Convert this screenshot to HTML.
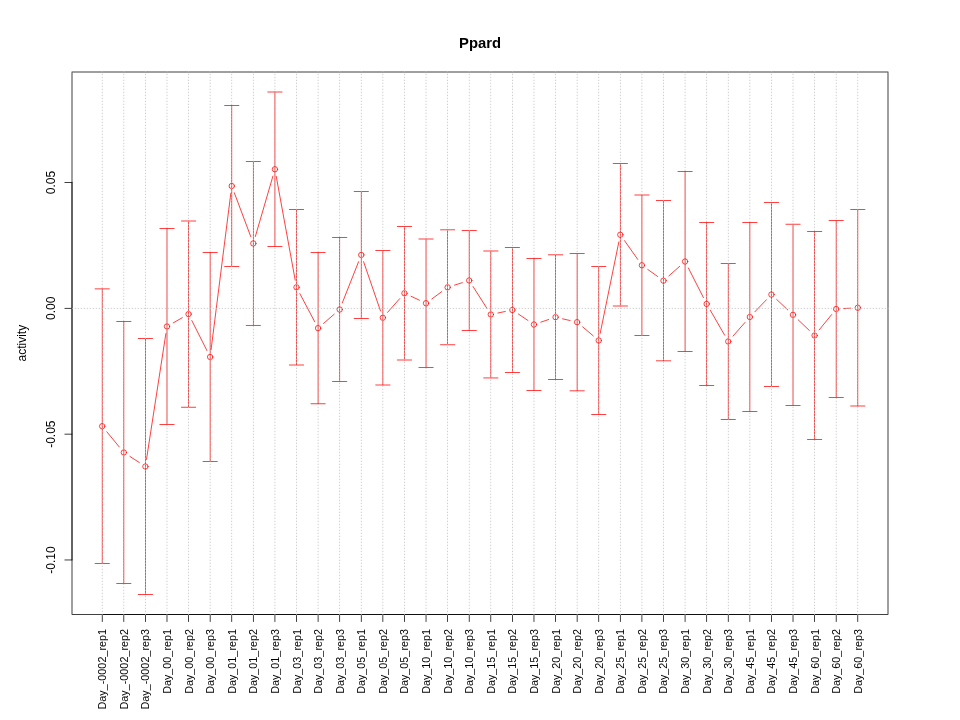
<!DOCTYPE html><html><head><meta charset="utf-8"><style>html,body{margin:0;padding:0;background:#fff;width:960px;height:720px;overflow:hidden}svg{display:block;position:absolute;left:0;top:0}text{font-family:"Liberation Sans",sans-serif;fill:#000}.c{shape-rendering:crispEdges}</style></head><body>
<svg width="960" height="720" viewBox="0 0 960 720" stroke-linecap="round" stroke-linejoin="round" style="will-change:transform">
<rect x="0" y="0" width="960" height="720" fill="#fff"/>
<path d="M106.793 431.763L119.239 446.912M129.847 456.398L139.359 462.577M146.494 459.384L165.887 333.566M173.234 322.875L182.322 317.675M191.809 320.531L206.921 350.544M211.061 349.832L230.844 193.143M234.28 192.74L250.8 236.685M255.345 236.512L272.909 176.163M276.216 176.333L295.213 280.192M299.87 293.642L314.733 321.783M323.544 323.443L334.234 314.207M342.332 302.805L358.62 261.645M363.61 261.759L380.517 310.941M387.617 312.348L399.685 298.652M410.98 296.27L419.496 300.205M431.829 298.955L441.822 291.595M454.484 285.155L462.341 282.67M473.068 286.577L486.932 308.398M497.844 313.014L505.331 311.461M518.358 314.015L527.991 320.485M540.786 322.186L548.737 319.489M562.57 318.8L570.129 320.55M582.632 326.834L593.241 335.841M600.17 333.445L618.877 241.805M624.477 240.627L637.745 259.373M647.763 269.436L657.634 276.489M668.875 275.893L679.696 266.282M688.343 267.918L703.403 297.532M710.259 310.19L724.662 335.21M733.019 336.053L745.076 322.397M754.832 311.81L766.438 299.74M776.674 299.482L787.771 309.918M798.219 319.827L809.4 330.523M819.151 329.918L831.643 314.582M843.378 308.584L850.59 308.166" stroke="#f00" stroke-width="0.75" fill="none"/>
<g stroke="#f00" stroke-width="0.75" fill="none"><circle cx="102.222" cy="426.2" r="2.7"/><circle cx="123.81" cy="452.475" r="2.7"/><circle cx="145.397" cy="466.5" r="2.7"/><circle cx="166.984" cy="326.45" r="2.7"/><circle cx="188.571" cy="314.1" r="2.7"/><circle cx="210.159" cy="356.975" r="2.7"/><circle cx="231.746" cy="186" r="2.7"/><circle cx="253.333" cy="243.425" r="2.7"/><circle cx="274.921" cy="169.25" r="2.7"/><circle cx="296.508" cy="287.275" r="2.7"/><circle cx="318.095" cy="328.15" r="2.7"/><circle cx="339.683" cy="309.5" r="2.7"/><circle cx="361.27" cy="254.95" r="2.7"/><circle cx="382.857" cy="317.75" r="2.7"/><circle cx="404.444" cy="293.25" r="2.7"/><circle cx="426.032" cy="303.225" r="2.7"/><circle cx="447.619" cy="287.325" r="2.7"/><circle cx="469.206" cy="280.5" r="2.7"/><circle cx="490.794" cy="314.475" r="2.7"/><circle cx="512.381" cy="310" r="2.7"/><circle cx="533.968" cy="324.5" r="2.7"/><circle cx="555.556" cy="317.175" r="2.7"/><circle cx="577.143" cy="322.175" r="2.7"/><circle cx="598.73" cy="340.5" r="2.7"/><circle cx="620.317" cy="234.75" r="2.7"/><circle cx="641.905" cy="265.25" r="2.7"/><circle cx="663.492" cy="280.675" r="2.7"/><circle cx="685.079" cy="261.5" r="2.7"/><circle cx="706.667" cy="303.95" r="2.7"/><circle cx="728.254" cy="341.45" r="2.7"/><circle cx="749.841" cy="317" r="2.7"/><circle cx="771.429" cy="294.55" r="2.7"/><circle cx="793.016" cy="314.85" r="2.7"/><circle cx="814.603" cy="335.5" r="2.7"/><circle cx="836.19" cy="309" r="2.7"/><circle cx="857.778" cy="307.75" r="2.7"/></g>
<g class="c">
<path d="M71 614h1v1h-1zM72 614h1v1h-1zM887 614h1v1h-1zM888 614h1v1h-1z" fill="#000" fill-opacity="0.009"/><path d="M71 71h1v1h-1zM888 71h1v1h-1zM71 72h1v1h-1zM888 72h1v1h-1z" fill="#000" fill-opacity="0.141"/><path d="M71 72h1v1h-1zM72 72h1v1h-1zM887 72h1v1h-1zM888 72h1v1h-1z" fill="#000" fill-opacity="0.234"/><path d="M71 614h1v1h-1zM888 614h1v1h-1z" fill="#000" fill-opacity="0.281"/><path d="M72 71h816v1h-816zM72 72h816v1h-816zM71 73h1v541h-1zM72 73h1v541h-1zM887 73h1v541h-1zM888 73h1v541h-1z" fill="#000" fill-opacity="0.375"/><path d="M72 614h816v1h-816z" fill="#000" fill-opacity="0.75"/>
<path d="M101 614h1v1h-1zM858 614h1v1h-1z" fill="#000" fill-opacity="0.054"/><path d="M102 614h756v1h-756z" fill="#000" fill-opacity="0.75"/>
<path d="M252 614h1v1h-1zM252 621h1v1h-1zM707 614h1v1h-1zM707 621h1v1h-1z" fill="#000" fill-opacity="0.037"/><path d="M252 615h1v6h-1zM707 615h1v6h-1z" fill="#000" fill-opacity="0.042"/><path d="M340 614h1v1h-1zM340 621h1v1h-1zM619 614h1v1h-1zM619 621h1v1h-1z" fill="#000" fill-opacity="0.051"/><path d="M340 615h1v6h-1zM619 615h1v6h-1z" fill="#000" fill-opacity="0.058"/><path d="M360 614h1v1h-1zM360 621h1v1h-1zM599 614h1v1h-1zM599 621h1v1h-1z" fill="#000" fill-opacity="0.094"/><path d="M360 615h1v6h-1zM599 615h1v6h-1z" fill="#000" fill-opacity="0.105"/><path d="M232 614h1v1h-1zM232 621h1v1h-1zM727 614h1v1h-1zM727 621h1v1h-1z" fill="#000" fill-opacity="0.108"/><path d="M232 615h1v6h-1zM727 615h1v6h-1z" fill="#000" fill-opacity="0.121"/><path d="M101 614h1v1h-1zM101 621h1v1h-1zM858 614h1v1h-1zM858 621h1v1h-1z" fill="#000" fill-opacity="0.137"/><path d="M468 614h1v1h-1zM468 621h1v1h-1zM491 614h1v1h-1zM491 621h1v1h-1z" fill="#000" fill-opacity="0.151"/><path d="M101 615h1v6h-1zM858 615h1v6h-1z" fill="#000" fill-opacity="0.153"/><path d="M124 614h1v1h-1zM124 621h1v1h-1zM835 614h1v1h-1zM835 621h1v1h-1z" fill="#000" fill-opacity="0.165"/><path d="M468 615h1v6h-1zM491 615h1v6h-1z" fill="#000" fill-opacity="0.169"/><path d="M124 615h1v6h-1zM835 615h1v6h-1z" fill="#000" fill-opacity="0.185"/><path d="M209 614h1v1h-1zM209 621h1v1h-1zM750 614h1v1h-1zM750 621h1v1h-1z" fill="#000" fill-opacity="0.193"/><path d="M383 614h1v1h-1zM383 621h1v1h-1zM576 614h1v1h-1zM576 621h1v1h-1z" fill="#000" fill-opacity="0.208"/><path d="M209 615h1v6h-1zM750 615h1v6h-1z" fill="#000" fill-opacity="0.216"/><path d="M383 615h1v6h-1zM576 615h1v6h-1z" fill="#000" fill-opacity="0.232"/><path d="M317 614h1v1h-1zM317 621h1v1h-1zM642 614h1v1h-1zM642 621h1v1h-1z" fill="#000" fill-opacity="0.25"/><path d="M275 614h1v1h-1zM275 621h1v1h-1zM684 614h1v1h-1zM684 621h1v1h-1z" fill="#000" fill-opacity="0.264"/><path d="M317 615h1v6h-1zM642 615h1v6h-1z" fill="#000" fill-opacity="0.28"/><path d="M275 615h1v6h-1zM684 615h1v6h-1z" fill="#000" fill-opacity="0.296"/><path d="M425 614h1v1h-1zM425 621h1v1h-1zM534 614h1v1h-1zM534 621h1v1h-1z" fill="#000" fill-opacity="0.307"/><path d="M167 614h1v1h-1zM167 621h1v1h-1zM792 614h1v1h-1zM792 621h1v1h-1z" fill="#000" fill-opacity="0.321"/><path d="M425 615h1v6h-1zM534 615h1v6h-1z" fill="#000" fill-opacity="0.343"/><path d="M166 614h1v1h-1zM166 621h1v1h-1zM793 614h1v1h-1zM793 621h1v1h-1z" fill="#000" fill-opacity="0.35"/><path d="M167 615h1v6h-1zM792 615h1v6h-1z" fill="#000" fill-opacity="0.359"/><path d="M426 614h1v1h-1zM426 621h1v1h-1zM533 614h1v1h-1zM533 621h1v1h-1z" fill="#000" fill-opacity="0.364"/><path d="M166 615h1v6h-1zM793 615h1v6h-1z" fill="#000" fill-opacity="0.391"/><path d="M274 614h1v1h-1zM274 621h1v1h-1zM685 614h1v1h-1zM685 621h1v1h-1z" fill="#000" fill-opacity="0.406"/><path d="M426 615h1v6h-1zM533 615h1v6h-1z" fill="#000" fill-opacity="0.407"/><path d="M318 614h1v1h-1zM318 621h1v1h-1zM641 614h1v1h-1zM641 621h1v1h-1z" fill="#000" fill-opacity="0.421"/><path d="M274 615h1v6h-1zM685 615h1v6h-1z" fill="#000" fill-opacity="0.454"/><path d="M382 614h1v1h-1zM382 621h1v1h-1zM577 614h1v1h-1zM577 621h1v1h-1z" fill="#000" fill-opacity="0.463"/><path d="M318 615h1v6h-1zM641 615h1v6h-1z" fill="#000" fill-opacity="0.47"/><path d="M210 614h1v1h-1zM210 621h1v1h-1zM749 614h1v1h-1zM749 621h1v1h-1z" fill="#000" fill-opacity="0.477"/><path d="M123 614h1v1h-1zM123 621h1v1h-1zM836 614h1v1h-1zM836 621h1v1h-1z" fill="#000" fill-opacity="0.506"/><path d="M382 615h1v6h-1zM577 615h1v6h-1z" fill="#000" fill-opacity="0.518"/><path d="M469 614h1v1h-1zM469 621h1v1h-1zM490 614h1v1h-1zM490 621h1v1h-1z" fill="#000" fill-opacity="0.52"/><path d="M102 614h1v1h-1zM102 621h1v1h-1zM210 615h1v6h-1zM749 615h1v6h-1zM857 614h1v1h-1zM857 621h1v1h-1z" fill="#000" fill-opacity="0.534"/><path d="M231 614h1v1h-1zM231 621h1v1h-1zM728 614h1v1h-1zM728 621h1v1h-1z" fill="#000" fill-opacity="0.563"/><path d="M123 615h1v6h-1zM836 615h1v6h-1z" fill="#000" fill-opacity="0.565"/><path d="M361 614h1v1h-1zM361 621h1v1h-1zM598 614h1v1h-1zM598 621h1v1h-1z" fill="#000" fill-opacity="0.577"/><path d="M469 615h1v6h-1zM490 615h1v6h-1z" fill="#000" fill-opacity="0.581"/><path d="M102 615h1v6h-1zM857 615h1v6h-1z" fill="#000" fill-opacity="0.597"/><path d="M339 614h1v1h-1zM339 621h1v1h-1zM620 614h1v1h-1zM620 621h1v1h-1z" fill="#000" fill-opacity="0.619"/><path d="M231 615h1v6h-1zM728 615h1v6h-1z" fill="#000" fill-opacity="0.629"/><path d="M253 614h1v1h-1zM253 621h1v1h-1zM706 614h1v1h-1zM706 621h1v1h-1z" fill="#000" fill-opacity="0.634"/><path d="M361 615h1v6h-1zM598 615h1v6h-1z" fill="#000" fill-opacity="0.645"/><path d="M145 614h1v1h-1zM145 621h1v1h-1zM188 614h1v1h-1zM188 621h1v1h-1zM296 614h1v1h-1zM296 621h1v1h-1zM404 614h1v1h-1zM404 621h1v1h-1zM447 614h1v1h-1zM447 621h1v1h-1zM512 614h1v1h-1zM512 621h1v1h-1zM555 614h1v1h-1zM555 621h1v1h-1zM663 614h1v1h-1zM663 621h1v1h-1zM771 614h1v1h-1zM771 621h1v1h-1zM814 614h1v1h-1zM814 621h1v1h-1z" fill="#000" fill-opacity="0.671"/><path d="M339 615h1v6h-1zM620 615h1v6h-1z" fill="#000" fill-opacity="0.692"/><path d="M253 615h1v6h-1zM706 615h1v6h-1z" fill="#000" fill-opacity="0.708"/><path d="M145 615h1v6h-1zM188 615h1v6h-1zM296 615h1v6h-1zM404 615h1v6h-1zM447 615h1v6h-1zM512 615h1v6h-1zM555 615h1v6h-1zM663 615h1v6h-1zM771 615h1v6h-1zM814 615h1v6h-1z" fill="#000" fill-opacity="0.75"/>
<path d="M71 560h1v1h-1zM72 560h1v1h-1z" fill="#000" fill-opacity="0.099"/><path d="M71 182h1v1h-1zM72 182h1v1h-1z" fill="#000" fill-opacity="0.311"/><path d="M71 183h1v377h-1zM72 183h1v377h-1z" fill="#000" fill-opacity="0.375"/>
<path d="M72 307h1v1h-1z" fill="#000" fill-opacity="0.022"/><path d="M64 307h1v1h-1z" fill="#000" fill-opacity="0.037"/><path d="M72 433h1v1h-1z" fill="#000" fill-opacity="0.071"/><path d="M65 307h7v1h-7z" fill="#000" fill-opacity="0.075"/><path d="M72 560h1v1h-1z" fill="#000" fill-opacity="0.102"/><path d="M64 433h1v1h-1zM72 559h1v1h-1z" fill="#000" fill-opacity="0.119"/><path d="M72 434h1v1h-1z" fill="#000" fill-opacity="0.15"/><path d="M64 560h1v1h-1z" fill="#000" fill-opacity="0.171"/><path d="M72 308h1v1h-1z" fill="#000" fill-opacity="0.199"/><path d="M64 559h1v1h-1z" fill="#000" fill-opacity="0.2"/><path d="M72 182h1v1h-1z" fill="#000" fill-opacity="0.221"/><path d="M65 433h7v1h-7z" fill="#000" fill-opacity="0.24"/><path d="M64 434h1v1h-1z" fill="#000" fill-opacity="0.252"/><path d="M64 308h1v1h-1z" fill="#000" fill-opacity="0.334"/><path d="M65 560h7v1h-7z" fill="#000" fill-opacity="0.345"/><path d="M64 182h1v1h-1z" fill="#000" fill-opacity="0.371"/><path d="M65 559h7v1h-7z" fill="#000" fill-opacity="0.405"/><path d="M65 434h7v1h-7z" fill="#000" fill-opacity="0.51"/><path d="M65 308h7v1h-7z" fill="#000" fill-opacity="0.675"/><path d="M65 182h7v1h-7z" fill="#000" fill-opacity="0.75"/>
<path d="M619 306h1v1h-1z" fill="#f00" fill-opacity="0.017"/><path d="M317 404h1v1h-1z" fill="#f00" fill-opacity="0.026"/><path d="M252 325h1v1h-1z" fill="#f00" fill-opacity="0.027"/><path d="M707 385h1v1h-1z" fill="#f00" fill-opacity="0.029"/><path d="M252 161h1v1h-1zM707 222h1v1h-1z" fill="#f00" fill-opacity="0.033"/><path d="M576 391h1v1h-1zM792 223h1v1h-1z" fill="#f00" fill-opacity="0.034"/><path d="M793 223h1v1h-1z" fill="#f00" fill-opacity="0.037"/><path d="M491 378h1v1h-1z" fill="#f00" fill-opacity="0.041"/><path d="M252 162h1v163h-1zM707 223h1v162h-1z" fill="#f00" fill-opacity="0.042"/><path d="M318 404h1v1h-1z" fill="#f00" fill-opacity="0.044"/><path d="M858 406h1v1h-1z" fill="#f00" fill-opacity="0.045"/><path d="M340 237h1v1h-1zM340 381h1v1h-1zM619 163h1v1h-1z" fill="#f00" fill-opacity="0.046"/><path d="M491 250h1v1h-1z" fill="#f00" fill-opacity="0.05"/><path d="M340 238h1v143h-1zM619 164h1v142h-1z" fill="#f00" fill-opacity="0.058"/><path d="M101 288h1v1h-1z" fill="#f00" fill-opacity="0.06"/><path d="M383 385h1v1h-1z" fill="#f00" fill-opacity="0.068"/><path d="M447 345h1v1h-1z" fill="#f00" fill-opacity="0.071"/><path d="M360 318h1v1h-1z" fill="#f00" fill-opacity="0.073"/><path d="M577 391h1v1h-1z" fill="#f00" fill-opacity="0.075"/><path d="M642 194h1v1h-1z" fill="#f00" fill-opacity="0.082"/><path d="M360 191h1v1h-1zM599 266h1v1h-1zM599 414h1v1h-1z" fill="#f00" fill-opacity="0.084"/><path d="M275 91h1v1h-1z" fill="#f00" fill-opacity="0.087"/><path d="M232 105h1v1h-1zM232 266h1v1h-1zM727 419h1v1h-1z" fill="#f00" fill-opacity="0.096"/><path d="M425 238h1v1h-1z" fill="#f00" fill-opacity="0.101"/><path d="M360 192h1v126h-1zM599 267h1v147h-1z" fill="#f00" fill-opacity="0.105"/><path d="M663 361h1v1h-1zM727 263h1v1h-1z" fill="#f00" fill-opacity="0.108"/><path d="M426 238h1v1h-1z" fill="#f00" fill-opacity="0.12"/><path d="M101 563h1v1h-1zM232 106h1v160h-1zM727 264h1v155h-1zM858 209h1v1h-1z" fill="#f00" fill-opacity="0.121"/><path d="M274 91h1v1h-1zM468 230h1v1h-1zM468 330h1v1h-1z" fill="#f00" fill-opacity="0.134"/><path d="M641 194h1v1h-1z" fill="#f00" fill-opacity="0.138"/><path d="M490 378h1v1h-1z" fill="#f00" fill-opacity="0.142"/><path d="M124 583h1v1h-1zM835 220h1v1h-1zM835 397h1v1h-1z" fill="#f00" fill-opacity="0.147"/><path d="M101 289h1v274h-1zM382 385h1v1h-1zM858 210h1v196h-1z" fill="#f00" fill-opacity="0.153"/><path d="M124 321h1v1h-1z" fill="#f00" fill-opacity="0.156"/><path d="M468 231h1v99h-1zM491 251h1v127h-1z" fill="#f00" fill-opacity="0.169"/><path d="M490 250h1v1h-1z" fill="#f00" fill-opacity="0.171"/><path d="M209 461h1v1h-1zM750 222h1v1h-1zM750 411h1v1h-1z" fill="#f00" fill-opacity="0.172"/><path d="M857 406h1v1h-1z" fill="#f00" fill-opacity="0.176"/><path d="M209 252h1v1h-1z" fill="#f00" fill-opacity="0.183"/><path d="M383 250h1v1h-1zM576 253h1v1h-1z" fill="#f00" fill-opacity="0.184"/><path d="M124 322h1v261h-1zM835 221h1v176h-1z" fill="#f00" fill-opacity="0.185"/><path d="M620 306h1v1h-1z" fill="#f00" fill-opacity="0.204"/><path d="M209 253h1v208h-1zM750 223h1v188h-1z" fill="#f00" fill-opacity="0.216"/><path d="M188 220h1v1h-1zM296 365h1v1h-1zM404 360h1v1h-1z" fill="#f00" fill-opacity="0.221"/><path d="M317 252h1v1h-1zM642 335h1v1h-1z" fill="#f00" fill-opacity="0.222"/><path d="M383 251h1v134h-1zM576 254h1v137h-1z" fill="#f00" fill-opacity="0.232"/><path d="M275 246h1v1h-1zM684 171h1v1h-1zM684 351h1v1h-1z" fill="#f00" fill-opacity="0.235"/><path d="M102 288h1v1h-1z" fill="#f00" fill-opacity="0.236"/><path d="M425 367h1v1h-1z" fill="#f00" fill-opacity="0.256"/><path d="M534 258h1v1h-1zM534 390h1v1h-1z" fill="#f00" fill-opacity="0.273"/><path d="M317 253h1v151h-1zM642 195h1v140h-1z" fill="#f00" fill-opacity="0.28"/><path d="M167 424h1v1h-1zM792 405h1v1h-1z" fill="#f00" fill-opacity="0.285"/><path d="M275 92h1v154h-1zM684 172h1v179h-1z" fill="#f00" fill-opacity="0.296"/><path d="M426 367h1v1h-1z" fill="#f00" fill-opacity="0.303"/><path d="M166 424h1v1h-1zM793 405h1v1h-1z" fill="#f00" fill-opacity="0.311"/><path d="M167 228h1v1h-1z" fill="#f00" fill-opacity="0.321"/><path d="M533 258h1v1h-1zM533 390h1v1h-1z" fill="#f00" fill-opacity="0.323"/><path d="M447 229h1v1h-1zM555 254h1v1h-1z" fill="#f00" fill-opacity="0.333"/><path d="M425 239h1v128h-1zM534 259h1v131h-1z" fill="#f00" fill-opacity="0.343"/><path d="M166 228h1v1h-1z" fill="#f00" fill-opacity="0.35"/><path d="M167 229h1v195h-1zM792 224h1v181h-1z" fill="#f00" fill-opacity="0.359"/><path d="M274 246h1v1h-1zM685 171h1v1h-1zM685 351h1v1h-1z" fill="#f00" fill-opacity="0.361"/><path d="M188 407h1v1h-1z" fill="#f00" fill-opacity="0.371"/><path d="M318 252h1v1h-1zM641 335h1v1h-1z" fill="#f00" fill-opacity="0.374"/><path d="M166 229h1v195h-1zM793 224h1v181h-1z" fill="#f00" fill-opacity="0.391"/><path d="M426 239h1v128h-1zM533 259h1v131h-1z" fill="#f00" fill-opacity="0.407"/><path d="M382 250h1v1h-1zM577 253h1v1h-1z" fill="#f00" fill-opacity="0.411"/><path d="M210 461h1v1h-1zM749 222h1v1h-1zM749 411h1v1h-1z" fill="#f00" fill-opacity="0.424"/><path d="M361 318h1v1h-1z" fill="#f00" fill-opacity="0.448"/><path d="M123 583h1v1h-1zM836 220h1v1h-1zM836 397h1v1h-1z" fill="#f00" fill-opacity="0.449"/><path d="M210 252h1v1h-1z" fill="#f00" fill-opacity="0.451"/><path d="M274 92h1v154h-1zM685 172h1v179h-1z" fill="#f00" fill-opacity="0.454"/><path d="M253 325h1v1h-1z" fill="#f00" fill-opacity="0.457"/><path d="M469 230h1v1h-1zM469 330h1v1h-1z" fill="#f00" fill-opacity="0.462"/><path d="M318 253h1v151h-1zM641 195h1v140h-1z" fill="#f00" fill-opacity="0.47"/><path d="M102 563h1v1h-1zM857 209h1v1h-1z" fill="#f00" fill-opacity="0.475"/><path d="M123 321h1v1h-1z" fill="#f00" fill-opacity="0.478"/><path d="M706 385h1v1h-1z" fill="#f00" fill-opacity="0.492"/><path d="M231 105h1v1h-1zM231 266h1v1h-1zM728 419h1v1h-1z" fill="#f00" fill-opacity="0.5"/><path d="M361 191h1v1h-1zM598 266h1v1h-1zM598 414h1v1h-1z" fill="#f00" fill-opacity="0.512"/><path d="M382 251h1v134h-1zM577 254h1v137h-1z" fill="#f00" fill-opacity="0.518"/><path d="M771 202h1v1h-1z" fill="#f00" fill-opacity="0.521"/><path d="M210 253h1v208h-1zM749 223h1v188h-1z" fill="#f00" fill-opacity="0.534"/><path d="M339 237h1v1h-1zM339 381h1v1h-1zM620 163h1v1h-1z" fill="#f00" fill-opacity="0.55"/><path d="M296 209h1v1h-1z" fill="#f00" fill-opacity="0.558"/><path d="M253 161h1v1h-1zM706 222h1v1h-1zM728 263h1v1h-1z" fill="#f00" fill-opacity="0.563"/><path d="M123 322h1v261h-1zM836 221h1v176h-1z" fill="#f00" fill-opacity="0.565"/><path d="M469 231h1v99h-1zM490 251h1v127h-1z" fill="#f00" fill-opacity="0.581"/><path d="M145 338h1v1h-1zM145 594h1v1h-1zM404 226h1v1h-1zM512 247h1v1h-1zM512 372h1v1h-1zM555 379h1v1h-1zM663 200h1v1h-1zM771 386h1v1h-1zM814 231h1v1h-1zM814 439h1v1h-1z" fill="#f00" fill-opacity="0.596"/><path d="M102 289h1v274h-1zM857 210h1v196h-1z" fill="#f00" fill-opacity="0.597"/><path d="M231 106h1v160h-1zM728 264h1v155h-1z" fill="#f00" fill-opacity="0.629"/><path d="M361 192h1v126h-1zM598 267h1v147h-1z" fill="#f00" fill-opacity="0.645"/><path d="M339 238h1v143h-1zM620 164h1v142h-1z" fill="#f00" fill-opacity="0.692"/><path d="M253 162h1v163h-1zM706 223h1v162h-1z" fill="#f00" fill-opacity="0.708"/><path d="M145 339h1v255h-1zM188 221h1v186h-1zM296 210h1v155h-1zM404 227h1v133h-1zM447 230h1v115h-1zM512 248h1v124h-1zM555 255h1v124h-1zM663 201h1v160h-1zM771 203h1v183h-1zM814 232h1v207h-1z" fill="#f00" fill-opacity="0.75"/>
<path d="M245 324h1v1h-1z" fill="#f00" fill-opacity="0.004"/><path d="M563 255h1v1h-1z" fill="#f00" fill-opacity="0.011"/><path d="M196 406h1v1h-1z" fill="#f00" fill-opacity="0.012"/><path d="M396 359h1v1h-1zM396 360h1v1h-1z" fill="#f00" fill-opacity="0.019"/><path d="M455 345h1v1h-1z" fill="#f00" fill-opacity="0.02"/><path d="M260 324h1v1h-1z" fill="#f00" fill-opacity="0.021"/><path d="M196 220h1v1h-1zM196 221h1v1h-1zM246 324h14v1h-14z" fill="#f00" fill-opacity="0.025"/><path d="M455 230h1v1h-1zM563 254h1v1h-1z" fill="#f00" fill-opacity="0.026"/><path d="M196 407h1v1h-1zM396 226h1v1h-1zM563 379h1v1h-1z" fill="#f00" fill-opacity="0.038"/><path d="M763 202h1v1h-1zM763 386h1v1h-1z" fill="#f00" fill-opacity="0.049"/><path d="M455 229h1v1h-1z" fill="#f00" fill-opacity="0.06"/><path d="M455 344h1v1h-1z" fill="#f00" fill-opacity="0.065"/><path d="M612 305h1v1h-1zM612 306h1v1h-1z" fill="#f00" fill-opacity="0.066"/><path d="M310 404h1v1h-1z" fill="#f00" fill-opacity="0.07"/><path d="M137 338h1v1h-1zM137 594h1v1h-1zM822 231h1v1h-1zM822 439h1v1h-1z" fill="#f00" fill-opacity="0.073"/><path d="M94 289h1v1h-1z" fill="#f00" fill-opacity="0.075"/><path d="M569 391h1v1h-1z" fill="#f00" fill-opacity="0.079"/><path d="M785 223h1v1h-1z" fill="#f00" fill-opacity="0.084"/><path d="M504 247h1v1h-1zM504 372h1v1h-1z" fill="#f00" fill-opacity="0.085"/><path d="M800 223h1v1h-1z" fill="#f00" fill-opacity="0.089"/><path d="M498 378h1v1h-1z" fill="#f00" fill-opacity="0.094"/><path d="M865 405h1v1h-1zM865 406h1v1h-1z" fill="#f00" fill-opacity="0.102"/><path d="M325 404h1v1h-1z" fill="#f00" fill-opacity="0.103"/><path d="M498 250h1v1h-1zM498 251h1v1h-1z" fill="#f00" fill-opacity="0.108"/><path d="M245 325h1v1h-1z" fill="#f00" fill-opacity="0.117"/><path d="M245 161h1v1h-1zM714 222h1v1h-1zM714 385h1v1h-1z" fill="#f00" fill-opacity="0.121"/><path d="M498 377h1v1h-1z" fill="#f00" fill-opacity="0.122"/><path d="M94 288h1v1h-1z" fill="#f00" fill-opacity="0.129"/><path d="M390 384h1v1h-1zM390 385h1v1h-1z" fill="#f00" fill-opacity="0.132"/><path d="M347 237h1v1h-1zM347 381h1v1h-1zM612 163h1v1h-1z" fill="#f00" fill-opacity="0.133"/><path d="M584 391h1v1h-1z" fill="#f00" fill-opacity="0.143"/><path d="M649 194h1v1h-1zM649 195h1v1h-1z" fill="#f00" fill-opacity="0.15"/><path d="M440 345h1v1h-1z" fill="#f00" fill-opacity="0.153"/><path d="M282 91h1v1h-1zM282 92h1v1h-1z" fill="#f00" fill-opacity="0.156"/><path d="M181 406h1v1h-1z" fill="#f00" fill-opacity="0.162"/><path d="M353 191h1v1h-1zM353 318h1v1h-1zM606 266h1v1h-1zM606 414h1v1h-1z" fill="#f00" fill-opacity="0.169"/><path d="M418 238h1v1h-1zM418 239h1v1h-1z" fill="#f00" fill-opacity="0.174"/><path d="M182 406h14v1h-14zM311 404h14v1h-14zM441 345h14v1h-14zM786 223h14v1h-14z" fill="#f00" fill-opacity="0.175"/><path d="M239 105h1v1h-1zM239 266h1v1h-1zM720 263h1v1h-1zM720 419h1v1h-1z" fill="#f00" fill-opacity="0.18"/><path d="M569 390h1v1h-1z" fill="#f00" fill-opacity="0.185"/><path d="M109 289h1v1h-1zM433 238h1v1h-1zM433 239h1v1h-1zM440 230h1v1h-1z" fill="#f00" fill-opacity="0.197"/><path d="M94 563h1v1h-1zM865 209h1v1h-1z" fill="#f00" fill-opacity="0.204"/><path d="M548 255h1v1h-1z" fill="#f00" fill-opacity="0.211"/><path d="M267 91h1v1h-1zM267 92h1v1h-1z" fill="#f00" fill-opacity="0.215"/><path d="M461 230h1v1h-1zM461 330h1v1h-1z" fill="#f00" fill-opacity="0.216"/><path d="M634 194h1v1h-1zM634 195h1v1h-1z" fill="#f00" fill-opacity="0.221"/><path d="M670 361h1v1h-1z" fill="#f00" fill-opacity="0.222"/><path d="M441 230h14v1h-14zM549 255h14v1h-14zM570 391h14v1h-14zM656 361h14v1h-14z" fill="#f00" fill-opacity="0.225"/><path d="M131 321h1v1h-1zM131 583h1v1h-1zM483 378h1v1h-1zM828 220h1v1h-1zM828 397h1v1h-1z" fill="#f00" fill-opacity="0.228"/><path d="M310 403h1v1h-1z" fill="#f00" fill-opacity="0.23"/><path d="M375 384h1v1h-1zM375 385h1v1h-1z" fill="#f00" fill-opacity="0.239"/><path d="M202 252h1v1h-1zM202 461h1v1h-1zM757 222h1v1h-1zM757 411h1v1h-1z" fill="#f00" fill-opacity="0.252"/><path d="M483 250h1v1h-1zM483 251h1v1h-1z" fill="#f00" fill-opacity="0.263"/><path d="M390 250h1v1h-1zM569 253h1v1h-1z" fill="#f00" fill-opacity="0.264"/><path d="M850 405h1v1h-1zM850 406h1v1h-1z" fill="#f00" fill-opacity="0.269"/><path d="M95 289h14v1h-14zM785 224h1v1h-1z" fill="#f00" fill-opacity="0.275"/><path d="M800 224h1v1h-1z" fill="#f00" fill-opacity="0.293"/><path d="M483 377h1v1h-1z" fill="#f00" fill-opacity="0.298"/><path d="M310 252h1v1h-1zM649 335h1v1h-1z" fill="#f00" fill-opacity="0.299"/><path d="M627 305h1v1h-1zM627 306h1v1h-1z" fill="#f00" fill-opacity="0.304"/><path d="M282 246h1v1h-1zM677 171h1v1h-1zM677 351h1v1h-1z" fill="#f00" fill-opacity="0.311"/><path d="M484 378h14v1h-14z" fill="#f00" fill-opacity="0.325"/><path d="M584 390h1v1h-1z" fill="#f00" fill-opacity="0.335"/><path d="M325 403h1v1h-1z" fill="#f00" fill-opacity="0.339"/><path d="M109 288h1v1h-1z" fill="#f00" fill-opacity="0.34"/><path d="M181 220h1v1h-1zM181 221h1v1h-1z" fill="#f00" fill-opacity="0.346"/><path d="M418 367h1v1h-1zM541 258h1v1h-1zM541 390h1v1h-1z" fill="#f00" fill-opacity="0.347"/><path d="M411 359h1v1h-1zM411 360h1v1h-1z" fill="#f00" fill-opacity="0.352"/><path d="M174 228h1v1h-1zM174 424h1v1h-1zM785 405h1v1h-1z" fill="#f00" fill-opacity="0.359"/><path d="M289 364h1v1h-1zM289 365h1v1h-1z" fill="#f00" fill-opacity="0.37"/><path d="M182 220h14v1h-14zM182 221h14v1h-14zM268 91h14v1h-14zM268 92h14v1h-14zM290 364h14v1h-14zM290 365h14v1h-14zM376 384h14v1h-14zM376 385h14v1h-14zM397 359h14v1h-14zM397 360h14v1h-14zM419 238h14v1h-14zM419 239h14v1h-14zM484 250h14v1h-14zM484 251h14v1h-14zM613 305h14v1h-14zM613 306h14v1h-14zM635 194h14v1h-14zM635 195h14v1h-14zM851 405h14v1h-14zM851 406h14v1h-14z" fill="#f00" fill-opacity="0.375"/><path d="M159 228h1v1h-1zM159 424h1v1h-1zM800 405h1v1h-1z" fill="#f00" fill-opacity="0.383"/><path d="M433 367h1v1h-1zM526 258h1v1h-1zM526 390h1v1h-1z" fill="#f00" fill-opacity="0.395"/><path d="M484 377h14v1h-14z" fill="#f00" fill-opacity="0.425"/><path d="M267 246h1v1h-1zM692 171h1v1h-1zM692 351h1v1h-1z" fill="#f00" fill-opacity="0.43"/><path d="M325 252h1v1h-1zM634 335h1v1h-1z" fill="#f00" fill-opacity="0.442"/><path d="M440 229h1v1h-1z" fill="#f00" fill-opacity="0.46"/><path d="M95 288h14v1h-14z" fill="#f00" fill-opacity="0.475"/><path d="M375 250h1v1h-1zM584 253h1v1h-1z" fill="#f00" fill-opacity="0.478"/><path d="M217 252h1v1h-1zM217 461h1v1h-1zM742 222h1v1h-1zM742 411h1v1h-1z" fill="#f00" fill-opacity="0.49"/><path d="M548 254h1v1h-1z" fill="#f00" fill-opacity="0.493"/><path d="M440 344h1v1h-1z" fill="#f00" fill-opacity="0.503"/><path d="M116 321h1v1h-1zM116 583h1v1h-1zM843 220h1v1h-1zM843 397h1v1h-1z" fill="#f00" fill-opacity="0.514"/><path d="M670 360h1v1h-1z" fill="#f00" fill-opacity="0.518"/><path d="M441 229h14v1h-14zM549 254h14v1h-14zM570 390h14v1h-14zM656 360h14v1h-14z" fill="#f00" fill-opacity="0.525"/><path d="M476 230h1v1h-1zM476 330h1v1h-1z" fill="#f00" fill-opacity="0.526"/><path d="M181 407h1v1h-1z" fill="#f00" fill-opacity="0.531"/><path d="M109 563h1v1h-1zM850 209h1v1h-1z" fill="#f00" fill-opacity="0.538"/><path d="M224 105h1v1h-1zM224 266h1v1h-1zM735 263h1v1h-1zM735 419h1v1h-1z" fill="#f00" fill-opacity="0.561"/><path d="M368 191h1v1h-1zM368 318h1v1h-1zM591 266h1v1h-1zM591 414h1v1h-1z" fill="#f00" fill-opacity="0.573"/><path d="M182 407h14v1h-14zM311 403h14v1h-14zM441 344h14v1h-14zM786 224h14v1h-14z" fill="#f00" fill-opacity="0.575"/><path d="M260 325h1v1h-1z" fill="#f00" fill-opacity="0.6"/><path d="M332 237h1v1h-1zM332 381h1v1h-1zM627 163h1v1h-1z" fill="#f00" fill-opacity="0.609"/><path d="M260 161h1v1h-1zM699 222h1v1h-1zM699 385h1v1h-1z" fill="#f00" fill-opacity="0.621"/><path d="M519 247h1v1h-1zM519 372h1v1h-1z" fill="#f00" fill-opacity="0.657"/><path d="M152 338h1v1h-1zM152 594h1v1h-1zM807 231h1v1h-1zM807 439h1v1h-1z" fill="#f00" fill-opacity="0.669"/><path d="M778 202h1v1h-1zM778 386h1v1h-1z" fill="#f00" fill-opacity="0.692"/><path d="M411 226h1v1h-1zM548 379h1v1h-1z" fill="#f00" fill-opacity="0.704"/><path d="M246 325h14v1h-14z" fill="#f00" fill-opacity="0.725"/><path d="M289 209h1v1h-1zM670 200h1v1h-1z" fill="#f00" fill-opacity="0.74"/><path d="M95 563h14v1h-14zM117 321h14v1h-14zM117 583h14v1h-14zM138 338h14v1h-14zM138 594h14v1h-14zM160 228h14v1h-14zM160 424h14v1h-14zM203 252h14v1h-14zM203 461h14v1h-14zM225 105h14v1h-14zM225 266h14v1h-14zM246 161h14v1h-14zM268 246h14v1h-14zM290 209h14v1h-14zM311 252h14v1h-14zM333 237h14v1h-14zM333 381h14v1h-14zM354 191h14v1h-14zM354 318h14v1h-14zM376 250h14v1h-14zM397 226h14v1h-14zM419 367h14v1h-14zM462 230h14v1h-14zM462 330h14v1h-14zM505 247h14v1h-14zM505 372h14v1h-14zM527 258h14v1h-14zM527 390h14v1h-14zM549 379h14v1h-14zM570 253h14v1h-14zM592 266h14v1h-14zM592 414h14v1h-14zM613 163h14v1h-14zM635 335h14v1h-14zM656 200h14v1h-14zM678 171h14v1h-14zM678 351h14v1h-14zM700 222h14v1h-14zM700 385h14v1h-14zM721 263h14v1h-14zM721 419h14v1h-14zM743 222h14v1h-14zM743 411h14v1h-14zM764 202h14v1h-14zM764 386h14v1h-14zM786 405h14v1h-14zM808 231h14v1h-14zM808 439h14v1h-14zM829 220h14v1h-14zM829 397h14v1h-14zM851 209h14v1h-14z" fill="#f00" fill-opacity="0.75"/>
</g>
<defs><pattern id="v0_101" patternUnits="userSpaceOnUse" x="101" y="0" width="1" height="3"><rect x="0" y="1" width="1" height="1" fill="#bebebe" fill-opacity="0.041"/><rect x="0" y="2" width="1" height="1" fill="#bebebe" fill-opacity="0.151"/><rect x="0" y="0" width="1" height="1" fill="#bebebe" fill-opacity="0.013"/></pattern><pattern id="v0_102" patternUnits="userSpaceOnUse" x="102" y="0" width="1" height="3"><rect x="0" y="1" width="1" height="1" fill="#bebebe" fill-opacity="0.16"/><rect x="0" y="2" width="1" height="1" fill="#bebebe" fill-opacity="0.589"/><rect x="0" y="0" width="1" height="1" fill="#bebebe" fill-opacity="0.05"/></pattern><pattern id="v1_123" patternUnits="userSpaceOnUse" x="123" y="0" width="1" height="3"><rect x="0" y="1" width="1" height="1" fill="#bebebe" fill-opacity="0.152"/><rect x="0" y="2" width="1" height="1" fill="#bebebe" fill-opacity="0.558"/><rect x="0" y="0" width="1" height="1" fill="#bebebe" fill-opacity="0.047"/></pattern><pattern id="v1_124" patternUnits="userSpaceOnUse" x="124" y="0" width="1" height="3"><rect x="0" y="1" width="1" height="1" fill="#bebebe" fill-opacity="0.05"/><rect x="0" y="2" width="1" height="1" fill="#bebebe" fill-opacity="0.182"/><rect x="0" y="0" width="1" height="1" fill="#bebebe" fill-opacity="0.015"/></pattern><pattern id="v2_145" patternUnits="userSpaceOnUse" x="145" y="0" width="1" height="3"><rect x="0" y="1" width="1" height="1" fill="#bebebe" fill-opacity="0.201"/><rect x="0" y="2" width="1" height="1" fill="#bebebe" fill-opacity="0.74"/><rect x="0" y="0" width="1" height="1" fill="#bebebe" fill-opacity="0.063"/></pattern><pattern id="v3_166" patternUnits="userSpaceOnUse" x="166" y="0" width="1" height="3"><rect x="0" y="1" width="1" height="1" fill="#bebebe" fill-opacity="0.105"/><rect x="0" y="2" width="1" height="1" fill="#bebebe" fill-opacity="0.386"/><rect x="0" y="0" width="1" height="1" fill="#bebebe" fill-opacity="0.033"/></pattern><pattern id="v3_167" patternUnits="userSpaceOnUse" x="167" y="0" width="1" height="3"><rect x="0" y="1" width="1" height="1" fill="#bebebe" fill-opacity="0.096"/><rect x="0" y="2" width="1" height="1" fill="#bebebe" fill-opacity="0.354"/><rect x="0" y="0" width="1" height="1" fill="#bebebe" fill-opacity="0.03"/></pattern><pattern id="v4_188" patternUnits="userSpaceOnUse" x="188" y="0" width="1" height="3"><rect x="0" y="1" width="1" height="1" fill="#bebebe" fill-opacity="0.201"/><rect x="0" y="2" width="1" height="1" fill="#bebebe" fill-opacity="0.74"/><rect x="0" y="0" width="1" height="1" fill="#bebebe" fill-opacity="0.063"/></pattern><pattern id="v5_209" patternUnits="userSpaceOnUse" x="209" y="0" width="1" height="3"><rect x="0" y="1" width="1" height="1" fill="#bebebe" fill-opacity="0.058"/><rect x="0" y="2" width="1" height="1" fill="#bebebe" fill-opacity="0.213"/><rect x="0" y="0" width="1" height="1" fill="#bebebe" fill-opacity="0.018"/></pattern><pattern id="v5_210" patternUnits="userSpaceOnUse" x="210" y="0" width="1" height="3"><rect x="0" y="1" width="1" height="1" fill="#bebebe" fill-opacity="0.143"/><rect x="0" y="2" width="1" height="1" fill="#bebebe" fill-opacity="0.527"/><rect x="0" y="0" width="1" height="1" fill="#bebebe" fill-opacity="0.045"/></pattern><pattern id="v6_231" patternUnits="userSpaceOnUse" x="231" y="0" width="1" height="3"><rect x="0" y="1" width="1" height="1" fill="#bebebe" fill-opacity="0.169"/><rect x="0" y="2" width="1" height="1" fill="#bebebe" fill-opacity="0.621"/><rect x="0" y="0" width="1" height="1" fill="#bebebe" fill-opacity="0.053"/></pattern><pattern id="v6_232" patternUnits="userSpaceOnUse" x="232" y="0" width="1" height="3"><rect x="0" y="1" width="1" height="1" fill="#bebebe" fill-opacity="0.032"/><rect x="0" y="2" width="1" height="1" fill="#bebebe" fill-opacity="0.119"/><rect x="0" y="0" width="1" height="1" fill="#bebebe" fill-opacity="0.01"/></pattern><pattern id="v7_252" patternUnits="userSpaceOnUse" x="252" y="0" width="1" height="3"><rect x="0" y="1" width="1" height="1" fill="#bebebe" fill-opacity="0.011"/><rect x="0" y="2" width="1" height="1" fill="#bebebe" fill-opacity="0.041"/><rect x="0" y="0" width="1" height="1" fill="#bebebe" fill-opacity="0.003"/></pattern><pattern id="v7_253" patternUnits="userSpaceOnUse" x="253" y="0" width="1" height="3"><rect x="0" y="1" width="1" height="1" fill="#bebebe" fill-opacity="0.19"/><rect x="0" y="2" width="1" height="1" fill="#bebebe" fill-opacity="0.699"/><rect x="0" y="0" width="1" height="1" fill="#bebebe" fill-opacity="0.059"/></pattern><pattern id="v8_274" patternUnits="userSpaceOnUse" x="274" y="0" width="1" height="3"><rect x="0" y="1" width="1" height="1" fill="#bebebe" fill-opacity="0.122"/><rect x="0" y="2" width="1" height="1" fill="#bebebe" fill-opacity="0.448"/><rect x="0" y="0" width="1" height="1" fill="#bebebe" fill-opacity="0.038"/></pattern><pattern id="v8_275" patternUnits="userSpaceOnUse" x="275" y="0" width="1" height="3"><rect x="0" y="1" width="1" height="1" fill="#bebebe" fill-opacity="0.079"/><rect x="0" y="2" width="1" height="1" fill="#bebebe" fill-opacity="0.292"/><rect x="0" y="0" width="1" height="1" fill="#bebebe" fill-opacity="0.025"/></pattern><pattern id="v9_296" patternUnits="userSpaceOnUse" x="296" y="0" width="1" height="3"><rect x="0" y="1" width="1" height="1" fill="#bebebe" fill-opacity="0.201"/><rect x="0" y="2" width="1" height="1" fill="#bebebe" fill-opacity="0.74"/><rect x="0" y="0" width="1" height="1" fill="#bebebe" fill-opacity="0.063"/></pattern><pattern id="v10_317" patternUnits="userSpaceOnUse" x="317" y="0" width="1" height="3"><rect x="0" y="1" width="1" height="1" fill="#bebebe" fill-opacity="0.075"/><rect x="0" y="2" width="1" height="1" fill="#bebebe" fill-opacity="0.276"/><rect x="0" y="0" width="1" height="1" fill="#bebebe" fill-opacity="0.023"/></pattern><pattern id="v10_318" patternUnits="userSpaceOnUse" x="318" y="0" width="1" height="3"><rect x="0" y="1" width="1" height="1" fill="#bebebe" fill-opacity="0.126"/><rect x="0" y="2" width="1" height="1" fill="#bebebe" fill-opacity="0.464"/><rect x="0" y="0" width="1" height="1" fill="#bebebe" fill-opacity="0.039"/></pattern><pattern id="v11_339" patternUnits="userSpaceOnUse" x="339" y="0" width="1" height="3"><rect x="0" y="1" width="1" height="1" fill="#bebebe" fill-opacity="0.186"/><rect x="0" y="2" width="1" height="1" fill="#bebebe" fill-opacity="0.683"/><rect x="0" y="0" width="1" height="1" fill="#bebebe" fill-opacity="0.058"/></pattern><pattern id="v11_340" patternUnits="userSpaceOnUse" x="340" y="0" width="1" height="3"><rect x="0" y="1" width="1" height="1" fill="#bebebe" fill-opacity="0.015"/><rect x="0" y="2" width="1" height="1" fill="#bebebe" fill-opacity="0.057"/><rect x="0" y="0" width="1" height="1" fill="#bebebe" fill-opacity="0.005"/></pattern><pattern id="v12_360" patternUnits="userSpaceOnUse" x="360" y="0" width="1" height="3"><rect x="0" y="1" width="1" height="1" fill="#bebebe" fill-opacity="0.028"/><rect x="0" y="2" width="1" height="1" fill="#bebebe" fill-opacity="0.104"/><rect x="0" y="0" width="1" height="1" fill="#bebebe" fill-opacity="0.009"/></pattern><pattern id="v12_361" patternUnits="userSpaceOnUse" x="361" y="0" width="1" height="3"><rect x="0" y="1" width="1" height="1" fill="#bebebe" fill-opacity="0.173"/><rect x="0" y="2" width="1" height="1" fill="#bebebe" fill-opacity="0.636"/><rect x="0" y="0" width="1" height="1" fill="#bebebe" fill-opacity="0.054"/></pattern><pattern id="v13_382" patternUnits="userSpaceOnUse" x="382" y="0" width="1" height="3"><rect x="0" y="1" width="1" height="1" fill="#bebebe" fill-opacity="0.139"/><rect x="0" y="2" width="1" height="1" fill="#bebebe" fill-opacity="0.511"/><rect x="0" y="0" width="1" height="1" fill="#bebebe" fill-opacity="0.043"/></pattern><pattern id="v13_383" patternUnits="userSpaceOnUse" x="383" y="0" width="1" height="3"><rect x="0" y="1" width="1" height="1" fill="#bebebe" fill-opacity="0.062"/><rect x="0" y="2" width="1" height="1" fill="#bebebe" fill-opacity="0.229"/><rect x="0" y="0" width="1" height="1" fill="#bebebe" fill-opacity="0.019"/></pattern><pattern id="v14_404" patternUnits="userSpaceOnUse" x="404" y="0" width="1" height="3"><rect x="0" y="1" width="1" height="1" fill="#bebebe" fill-opacity="0.201"/><rect x="0" y="2" width="1" height="1" fill="#bebebe" fill-opacity="0.74"/><rect x="0" y="0" width="1" height="1" fill="#bebebe" fill-opacity="0.063"/></pattern><pattern id="v15_425" patternUnits="userSpaceOnUse" x="425" y="0" width="1" height="3"><rect x="0" y="1" width="1" height="1" fill="#bebebe" fill-opacity="0.092"/><rect x="0" y="2" width="1" height="1" fill="#bebebe" fill-opacity="0.339"/><rect x="0" y="0" width="1" height="1" fill="#bebebe" fill-opacity="0.029"/></pattern><pattern id="v15_426" patternUnits="userSpaceOnUse" x="426" y="0" width="1" height="3"><rect x="0" y="1" width="1" height="1" fill="#bebebe" fill-opacity="0.109"/><rect x="0" y="2" width="1" height="1" fill="#bebebe" fill-opacity="0.401"/><rect x="0" y="0" width="1" height="1" fill="#bebebe" fill-opacity="0.034"/></pattern><pattern id="v16_447" patternUnits="userSpaceOnUse" x="447" y="0" width="1" height="3"><rect x="0" y="1" width="1" height="1" fill="#bebebe" fill-opacity="0.201"/><rect x="0" y="2" width="1" height="1" fill="#bebebe" fill-opacity="0.74"/><rect x="0" y="0" width="1" height="1" fill="#bebebe" fill-opacity="0.063"/></pattern><pattern id="v17_468" patternUnits="userSpaceOnUse" x="468" y="0" width="1" height="3"><rect x="0" y="1" width="1" height="1" fill="#bebebe" fill-opacity="0.045"/><rect x="0" y="2" width="1" height="1" fill="#bebebe" fill-opacity="0.166"/><rect x="0" y="0" width="1" height="1" fill="#bebebe" fill-opacity="0.014"/></pattern><pattern id="v17_469" patternUnits="userSpaceOnUse" x="469" y="0" width="1" height="3"><rect x="0" y="1" width="1" height="1" fill="#bebebe" fill-opacity="0.156"/><rect x="0" y="2" width="1" height="1" fill="#bebebe" fill-opacity="0.574"/><rect x="0" y="0" width="1" height="1" fill="#bebebe" fill-opacity="0.049"/></pattern><pattern id="v18_490" patternUnits="userSpaceOnUse" x="490" y="0" width="1" height="3"><rect x="0" y="1" width="1" height="1" fill="#bebebe" fill-opacity="0.156"/><rect x="0" y="2" width="1" height="1" fill="#bebebe" fill-opacity="0.574"/><rect x="0" y="0" width="1" height="1" fill="#bebebe" fill-opacity="0.049"/></pattern><pattern id="v18_491" patternUnits="userSpaceOnUse" x="491" y="0" width="1" height="3"><rect x="0" y="1" width="1" height="1" fill="#bebebe" fill-opacity="0.045"/><rect x="0" y="2" width="1" height="1" fill="#bebebe" fill-opacity="0.166"/><rect x="0" y="0" width="1" height="1" fill="#bebebe" fill-opacity="0.014"/></pattern><pattern id="v19_512" patternUnits="userSpaceOnUse" x="512" y="0" width="1" height="3"><rect x="0" y="1" width="1" height="1" fill="#bebebe" fill-opacity="0.201"/><rect x="0" y="2" width="1" height="1" fill="#bebebe" fill-opacity="0.74"/><rect x="0" y="0" width="1" height="1" fill="#bebebe" fill-opacity="0.063"/></pattern><pattern id="v20_533" patternUnits="userSpaceOnUse" x="533" y="0" width="1" height="3"><rect x="0" y="1" width="1" height="1" fill="#bebebe" fill-opacity="0.109"/><rect x="0" y="2" width="1" height="1" fill="#bebebe" fill-opacity="0.401"/><rect x="0" y="0" width="1" height="1" fill="#bebebe" fill-opacity="0.034"/></pattern><pattern id="v20_534" patternUnits="userSpaceOnUse" x="534" y="0" width="1" height="3"><rect x="0" y="1" width="1" height="1" fill="#bebebe" fill-opacity="0.092"/><rect x="0" y="2" width="1" height="1" fill="#bebebe" fill-opacity="0.339"/><rect x="0" y="0" width="1" height="1" fill="#bebebe" fill-opacity="0.029"/></pattern><pattern id="v21_555" patternUnits="userSpaceOnUse" x="555" y="0" width="1" height="3"><rect x="0" y="1" width="1" height="1" fill="#bebebe" fill-opacity="0.201"/><rect x="0" y="2" width="1" height="1" fill="#bebebe" fill-opacity="0.74"/><rect x="0" y="0" width="1" height="1" fill="#bebebe" fill-opacity="0.063"/></pattern><pattern id="v22_576" patternUnits="userSpaceOnUse" x="576" y="0" width="1" height="3"><rect x="0" y="1" width="1" height="1" fill="#bebebe" fill-opacity="0.062"/><rect x="0" y="2" width="1" height="1" fill="#bebebe" fill-opacity="0.229"/><rect x="0" y="0" width="1" height="1" fill="#bebebe" fill-opacity="0.019"/></pattern><pattern id="v22_577" patternUnits="userSpaceOnUse" x="577" y="0" width="1" height="3"><rect x="0" y="1" width="1" height="1" fill="#bebebe" fill-opacity="0.139"/><rect x="0" y="2" width="1" height="1" fill="#bebebe" fill-opacity="0.511"/><rect x="0" y="0" width="1" height="1" fill="#bebebe" fill-opacity="0.043"/></pattern><pattern id="v23_598" patternUnits="userSpaceOnUse" x="598" y="0" width="1" height="3"><rect x="0" y="1" width="1" height="1" fill="#bebebe" fill-opacity="0.173"/><rect x="0" y="2" width="1" height="1" fill="#bebebe" fill-opacity="0.636"/><rect x="0" y="0" width="1" height="1" fill="#bebebe" fill-opacity="0.054"/></pattern><pattern id="v23_599" patternUnits="userSpaceOnUse" x="599" y="0" width="1" height="3"><rect x="0" y="1" width="1" height="1" fill="#bebebe" fill-opacity="0.028"/><rect x="0" y="2" width="1" height="1" fill="#bebebe" fill-opacity="0.104"/><rect x="0" y="0" width="1" height="1" fill="#bebebe" fill-opacity="0.009"/></pattern><pattern id="v24_619" patternUnits="userSpaceOnUse" x="619" y="0" width="1" height="3"><rect x="0" y="1" width="1" height="1" fill="#bebebe" fill-opacity="0.015"/><rect x="0" y="2" width="1" height="1" fill="#bebebe" fill-opacity="0.057"/><rect x="0" y="0" width="1" height="1" fill="#bebebe" fill-opacity="0.005"/></pattern><pattern id="v24_620" patternUnits="userSpaceOnUse" x="620" y="0" width="1" height="3"><rect x="0" y="1" width="1" height="1" fill="#bebebe" fill-opacity="0.186"/><rect x="0" y="2" width="1" height="1" fill="#bebebe" fill-opacity="0.683"/><rect x="0" y="0" width="1" height="1" fill="#bebebe" fill-opacity="0.058"/></pattern><pattern id="v25_641" patternUnits="userSpaceOnUse" x="641" y="0" width="1" height="3"><rect x="0" y="1" width="1" height="1" fill="#bebebe" fill-opacity="0.126"/><rect x="0" y="2" width="1" height="1" fill="#bebebe" fill-opacity="0.464"/><rect x="0" y="0" width="1" height="1" fill="#bebebe" fill-opacity="0.039"/></pattern><pattern id="v25_642" patternUnits="userSpaceOnUse" x="642" y="0" width="1" height="3"><rect x="0" y="1" width="1" height="1" fill="#bebebe" fill-opacity="0.075"/><rect x="0" y="2" width="1" height="1" fill="#bebebe" fill-opacity="0.276"/><rect x="0" y="0" width="1" height="1" fill="#bebebe" fill-opacity="0.023"/></pattern><pattern id="v26_663" patternUnits="userSpaceOnUse" x="663" y="0" width="1" height="3"><rect x="0" y="1" width="1" height="1" fill="#bebebe" fill-opacity="0.201"/><rect x="0" y="2" width="1" height="1" fill="#bebebe" fill-opacity="0.74"/><rect x="0" y="0" width="1" height="1" fill="#bebebe" fill-opacity="0.063"/></pattern><pattern id="v27_684" patternUnits="userSpaceOnUse" x="684" y="0" width="1" height="3"><rect x="0" y="1" width="1" height="1" fill="#bebebe" fill-opacity="0.079"/><rect x="0" y="2" width="1" height="1" fill="#bebebe" fill-opacity="0.292"/><rect x="0" y="0" width="1" height="1" fill="#bebebe" fill-opacity="0.025"/></pattern><pattern id="v27_685" patternUnits="userSpaceOnUse" x="685" y="0" width="1" height="3"><rect x="0" y="1" width="1" height="1" fill="#bebebe" fill-opacity="0.122"/><rect x="0" y="2" width="1" height="1" fill="#bebebe" fill-opacity="0.448"/><rect x="0" y="0" width="1" height="1" fill="#bebebe" fill-opacity="0.038"/></pattern><pattern id="v28_706" patternUnits="userSpaceOnUse" x="706" y="0" width="1" height="3"><rect x="0" y="1" width="1" height="1" fill="#bebebe" fill-opacity="0.19"/><rect x="0" y="2" width="1" height="1" fill="#bebebe" fill-opacity="0.699"/><rect x="0" y="0" width="1" height="1" fill="#bebebe" fill-opacity="0.059"/></pattern><pattern id="v28_707" patternUnits="userSpaceOnUse" x="707" y="0" width="1" height="3"><rect x="0" y="1" width="1" height="1" fill="#bebebe" fill-opacity="0.011"/><rect x="0" y="2" width="1" height="1" fill="#bebebe" fill-opacity="0.041"/><rect x="0" y="0" width="1" height="1" fill="#bebebe" fill-opacity="0.003"/></pattern><pattern id="v29_727" patternUnits="userSpaceOnUse" x="727" y="0" width="1" height="3"><rect x="0" y="1" width="1" height="1" fill="#bebebe" fill-opacity="0.032"/><rect x="0" y="2" width="1" height="1" fill="#bebebe" fill-opacity="0.119"/><rect x="0" y="0" width="1" height="1" fill="#bebebe" fill-opacity="0.01"/></pattern><pattern id="v29_728" patternUnits="userSpaceOnUse" x="728" y="0" width="1" height="3"><rect x="0" y="1" width="1" height="1" fill="#bebebe" fill-opacity="0.169"/><rect x="0" y="2" width="1" height="1" fill="#bebebe" fill-opacity="0.621"/><rect x="0" y="0" width="1" height="1" fill="#bebebe" fill-opacity="0.053"/></pattern><pattern id="v30_749" patternUnits="userSpaceOnUse" x="749" y="0" width="1" height="3"><rect x="0" y="1" width="1" height="1" fill="#bebebe" fill-opacity="0.143"/><rect x="0" y="2" width="1" height="1" fill="#bebebe" fill-opacity="0.527"/><rect x="0" y="0" width="1" height="1" fill="#bebebe" fill-opacity="0.045"/></pattern><pattern id="v30_750" patternUnits="userSpaceOnUse" x="750" y="0" width="1" height="3"><rect x="0" y="1" width="1" height="1" fill="#bebebe" fill-opacity="0.058"/><rect x="0" y="2" width="1" height="1" fill="#bebebe" fill-opacity="0.213"/><rect x="0" y="0" width="1" height="1" fill="#bebebe" fill-opacity="0.018"/></pattern><pattern id="v31_771" patternUnits="userSpaceOnUse" x="771" y="0" width="1" height="3"><rect x="0" y="1" width="1" height="1" fill="#bebebe" fill-opacity="0.201"/><rect x="0" y="2" width="1" height="1" fill="#bebebe" fill-opacity="0.74"/><rect x="0" y="0" width="1" height="1" fill="#bebebe" fill-opacity="0.063"/></pattern><pattern id="v32_792" patternUnits="userSpaceOnUse" x="792" y="0" width="1" height="3"><rect x="0" y="1" width="1" height="1" fill="#bebebe" fill-opacity="0.096"/><rect x="0" y="2" width="1" height="1" fill="#bebebe" fill-opacity="0.354"/><rect x="0" y="0" width="1" height="1" fill="#bebebe" fill-opacity="0.03"/></pattern><pattern id="v32_793" patternUnits="userSpaceOnUse" x="793" y="0" width="1" height="3"><rect x="0" y="1" width="1" height="1" fill="#bebebe" fill-opacity="0.105"/><rect x="0" y="2" width="1" height="1" fill="#bebebe" fill-opacity="0.386"/><rect x="0" y="0" width="1" height="1" fill="#bebebe" fill-opacity="0.033"/></pattern><pattern id="v33_814" patternUnits="userSpaceOnUse" x="814" y="0" width="1" height="3"><rect x="0" y="1" width="1" height="1" fill="#bebebe" fill-opacity="0.201"/><rect x="0" y="2" width="1" height="1" fill="#bebebe" fill-opacity="0.74"/><rect x="0" y="0" width="1" height="1" fill="#bebebe" fill-opacity="0.063"/></pattern><pattern id="v34_835" patternUnits="userSpaceOnUse" x="835" y="0" width="1" height="3"><rect x="0" y="1" width="1" height="1" fill="#bebebe" fill-opacity="0.05"/><rect x="0" y="2" width="1" height="1" fill="#bebebe" fill-opacity="0.182"/><rect x="0" y="0" width="1" height="1" fill="#bebebe" fill-opacity="0.015"/></pattern><pattern id="v34_836" patternUnits="userSpaceOnUse" x="836" y="0" width="1" height="3"><rect x="0" y="1" width="1" height="1" fill="#bebebe" fill-opacity="0.152"/><rect x="0" y="2" width="1" height="1" fill="#bebebe" fill-opacity="0.558"/><rect x="0" y="0" width="1" height="1" fill="#bebebe" fill-opacity="0.047"/></pattern><pattern id="v35_857" patternUnits="userSpaceOnUse" x="857" y="0" width="1" height="3"><rect x="0" y="1" width="1" height="1" fill="#bebebe" fill-opacity="0.16"/><rect x="0" y="2" width="1" height="1" fill="#bebebe" fill-opacity="0.589"/><rect x="0" y="0" width="1" height="1" fill="#bebebe" fill-opacity="0.05"/></pattern><pattern id="v35_858" patternUnits="userSpaceOnUse" x="858" y="0" width="1" height="3"><rect x="0" y="1" width="1" height="1" fill="#bebebe" fill-opacity="0.041"/><rect x="0" y="2" width="1" height="1" fill="#bebebe" fill-opacity="0.151"/><rect x="0" y="0" width="1" height="1" fill="#bebebe" fill-opacity="0.013"/></pattern><pattern id="h307" patternUnits="userSpaceOnUse" x="0" y="307" width="3" height="1"><rect x="2" y="0" width="1" height="1" fill="#bebebe" fill-opacity="0.022"/><rect x="0" y="0" width="1" height="1" fill="#bebebe" fill-opacity="0.074"/><rect x="1" y="0" width="1" height="1" fill="#bebebe" fill-opacity="0.005"/></pattern><pattern id="h308" patternUnits="userSpaceOnUse" x="0" y="308" width="3" height="1"><rect x="2" y="0" width="1" height="1" fill="#bebebe" fill-opacity="0.199"/><rect x="0" y="0" width="1" height="1" fill="#bebebe" fill-opacity="0.662"/><rect x="1" y="0" width="1" height="1" fill="#bebebe" fill-opacity="0.043"/></pattern></defs>
<g class="c"><rect x="101" y="71" width="1" height="545" fill="url(#v0_101)"/><rect x="102" y="71" width="1" height="545" fill="url(#v0_102)"/><rect x="123" y="71" width="1" height="545" fill="url(#v1_123)"/><rect x="124" y="71" width="1" height="545" fill="url(#v1_124)"/><rect x="145" y="71" width="1" height="545" fill="url(#v2_145)"/><rect x="166" y="71" width="1" height="545" fill="url(#v3_166)"/><rect x="167" y="71" width="1" height="545" fill="url(#v3_167)"/><rect x="188" y="71" width="1" height="545" fill="url(#v4_188)"/><rect x="209" y="71" width="1" height="545" fill="url(#v5_209)"/><rect x="210" y="71" width="1" height="545" fill="url(#v5_210)"/><rect x="231" y="71" width="1" height="545" fill="url(#v6_231)"/><rect x="232" y="71" width="1" height="545" fill="url(#v6_232)"/><rect x="252" y="71" width="1" height="545" fill="url(#v7_252)"/><rect x="253" y="71" width="1" height="545" fill="url(#v7_253)"/><rect x="274" y="71" width="1" height="545" fill="url(#v8_274)"/><rect x="275" y="71" width="1" height="545" fill="url(#v8_275)"/><rect x="296" y="71" width="1" height="545" fill="url(#v9_296)"/><rect x="317" y="71" width="1" height="545" fill="url(#v10_317)"/><rect x="318" y="71" width="1" height="545" fill="url(#v10_318)"/><rect x="339" y="71" width="1" height="545" fill="url(#v11_339)"/><rect x="340" y="71" width="1" height="545" fill="url(#v11_340)"/><rect x="360" y="71" width="1" height="545" fill="url(#v12_360)"/><rect x="361" y="71" width="1" height="545" fill="url(#v12_361)"/><rect x="382" y="71" width="1" height="545" fill="url(#v13_382)"/><rect x="383" y="71" width="1" height="545" fill="url(#v13_383)"/><rect x="404" y="71" width="1" height="545" fill="url(#v14_404)"/><rect x="425" y="71" width="1" height="545" fill="url(#v15_425)"/><rect x="426" y="71" width="1" height="545" fill="url(#v15_426)"/><rect x="447" y="71" width="1" height="545" fill="url(#v16_447)"/><rect x="468" y="71" width="1" height="545" fill="url(#v17_468)"/><rect x="469" y="71" width="1" height="545" fill="url(#v17_469)"/><rect x="490" y="71" width="1" height="545" fill="url(#v18_490)"/><rect x="491" y="71" width="1" height="545" fill="url(#v18_491)"/><rect x="512" y="71" width="1" height="545" fill="url(#v19_512)"/><rect x="533" y="71" width="1" height="545" fill="url(#v20_533)"/><rect x="534" y="71" width="1" height="545" fill="url(#v20_534)"/><rect x="555" y="71" width="1" height="545" fill="url(#v21_555)"/><rect x="576" y="71" width="1" height="545" fill="url(#v22_576)"/><rect x="577" y="71" width="1" height="545" fill="url(#v22_577)"/><rect x="598" y="71" width="1" height="545" fill="url(#v23_598)"/><rect x="599" y="71" width="1" height="545" fill="url(#v23_599)"/><rect x="619" y="71" width="1" height="545" fill="url(#v24_619)"/><rect x="620" y="71" width="1" height="545" fill="url(#v24_620)"/><rect x="641" y="71" width="1" height="545" fill="url(#v25_641)"/><rect x="642" y="71" width="1" height="545" fill="url(#v25_642)"/><rect x="663" y="71" width="1" height="545" fill="url(#v26_663)"/><rect x="684" y="71" width="1" height="545" fill="url(#v27_684)"/><rect x="685" y="71" width="1" height="545" fill="url(#v27_685)"/><rect x="706" y="71" width="1" height="545" fill="url(#v28_706)"/><rect x="707" y="71" width="1" height="545" fill="url(#v28_707)"/><rect x="727" y="71" width="1" height="545" fill="url(#v29_727)"/><rect x="728" y="71" width="1" height="545" fill="url(#v29_728)"/><rect x="749" y="71" width="1" height="545" fill="url(#v30_749)"/><rect x="750" y="71" width="1" height="545" fill="url(#v30_750)"/><rect x="771" y="71" width="1" height="545" fill="url(#v31_771)"/><rect x="792" y="71" width="1" height="545" fill="url(#v32_792)"/><rect x="793" y="71" width="1" height="545" fill="url(#v32_793)"/><rect x="814" y="71" width="1" height="545" fill="url(#v33_814)"/><rect x="835" y="71" width="1" height="545" fill="url(#v34_835)"/><rect x="836" y="71" width="1" height="545" fill="url(#v34_836)"/><rect x="857" y="71" width="1" height="545" fill="url(#v35_857)"/><rect x="858" y="71" width="1" height="545" fill="url(#v35_858)"/><rect x="71" y="307" width="819" height="1" fill="url(#h307)"/><rect x="71" y="308" width="819" height="1" fill="url(#h308)"/></g>
<text transform="translate(55 182.465) rotate(-90)" text-anchor="middle" font-size="12">0.05</text>
<text transform="translate(55 308.3) rotate(-90)" text-anchor="middle" font-size="12">0.00</text>
<text transform="translate(55 434.135) rotate(-90)" text-anchor="middle" font-size="12">-0.05</text>
<text transform="translate(55 559.97) rotate(-90)" text-anchor="middle" font-size="12">-0.10</text>
<text transform="translate(106.222 629) rotate(-90)" text-anchor="end" font-size="10.8">Day_-0002_rep1</text>
<text transform="translate(127.81 629) rotate(-90)" text-anchor="end" font-size="10.8">Day_-0002_rep2</text>
<text transform="translate(149.397 629) rotate(-90)" text-anchor="end" font-size="10.8">Day_-0002_rep3</text>
<text transform="translate(170.984 629) rotate(-90)" text-anchor="end" font-size="10.8">Day_00_rep1</text>
<text transform="translate(192.571 629) rotate(-90)" text-anchor="end" font-size="10.8">Day_00_rep2</text>
<text transform="translate(214.159 629) rotate(-90)" text-anchor="end" font-size="10.8">Day_00_rep3</text>
<text transform="translate(235.746 629) rotate(-90)" text-anchor="end" font-size="10.8">Day_01_rep1</text>
<text transform="translate(257.333 629) rotate(-90)" text-anchor="end" font-size="10.8">Day_01_rep2</text>
<text transform="translate(278.921 629) rotate(-90)" text-anchor="end" font-size="10.8">Day_01_rep3</text>
<text transform="translate(300.508 629) rotate(-90)" text-anchor="end" font-size="10.8">Day_03_rep1</text>
<text transform="translate(322.095 629) rotate(-90)" text-anchor="end" font-size="10.8">Day_03_rep2</text>
<text transform="translate(343.683 629) rotate(-90)" text-anchor="end" font-size="10.8">Day_03_rep3</text>
<text transform="translate(365.27 629) rotate(-90)" text-anchor="end" font-size="10.8">Day_05_rep1</text>
<text transform="translate(386.857 629) rotate(-90)" text-anchor="end" font-size="10.8">Day_05_rep2</text>
<text transform="translate(408.444 629) rotate(-90)" text-anchor="end" font-size="10.8">Day_05_rep3</text>
<text transform="translate(430.032 629) rotate(-90)" text-anchor="end" font-size="10.8">Day_10_rep1</text>
<text transform="translate(451.619 629) rotate(-90)" text-anchor="end" font-size="10.8">Day_10_rep2</text>
<text transform="translate(473.206 629) rotate(-90)" text-anchor="end" font-size="10.8">Day_10_rep3</text>
<text transform="translate(494.794 629) rotate(-90)" text-anchor="end" font-size="10.8">Day_15_rep1</text>
<text transform="translate(516.381 629) rotate(-90)" text-anchor="end" font-size="10.8">Day_15_rep2</text>
<text transform="translate(537.968 629) rotate(-90)" text-anchor="end" font-size="10.8">Day_15_rep3</text>
<text transform="translate(559.556 629) rotate(-90)" text-anchor="end" font-size="10.8">Day_20_rep1</text>
<text transform="translate(581.143 629) rotate(-90)" text-anchor="end" font-size="10.8">Day_20_rep2</text>
<text transform="translate(602.73 629) rotate(-90)" text-anchor="end" font-size="10.8">Day_20_rep3</text>
<text transform="translate(624.317 629) rotate(-90)" text-anchor="end" font-size="10.8">Day_25_rep1</text>
<text transform="translate(645.905 629) rotate(-90)" text-anchor="end" font-size="10.8">Day_25_rep2</text>
<text transform="translate(667.492 629) rotate(-90)" text-anchor="end" font-size="10.8">Day_25_rep3</text>
<text transform="translate(689.079 629) rotate(-90)" text-anchor="end" font-size="10.8">Day_30_rep1</text>
<text transform="translate(710.667 629) rotate(-90)" text-anchor="end" font-size="10.8">Day_30_rep2</text>
<text transform="translate(732.254 629) rotate(-90)" text-anchor="end" font-size="10.8">Day_30_rep3</text>
<text transform="translate(753.841 629) rotate(-90)" text-anchor="end" font-size="10.8">Day_45_rep1</text>
<text transform="translate(775.429 629) rotate(-90)" text-anchor="end" font-size="10.8">Day_45_rep2</text>
<text transform="translate(797.016 629) rotate(-90)" text-anchor="end" font-size="10.8">Day_45_rep3</text>
<text transform="translate(818.603 629) rotate(-90)" text-anchor="end" font-size="10.8">Day_60_rep1</text>
<text transform="translate(840.19 629) rotate(-90)" text-anchor="end" font-size="10.8">Day_60_rep2</text>
<text transform="translate(861.778 629) rotate(-90)" text-anchor="end" font-size="10.8">Day_60_rep3</text>
<text x="480" y="47.8" text-anchor="middle" font-size="14.8" font-weight="bold">Ppard</text>
<text transform="translate(25.8 343.2) rotate(-90)" text-anchor="middle" font-size="12">activity</text>
</svg></body></html>
